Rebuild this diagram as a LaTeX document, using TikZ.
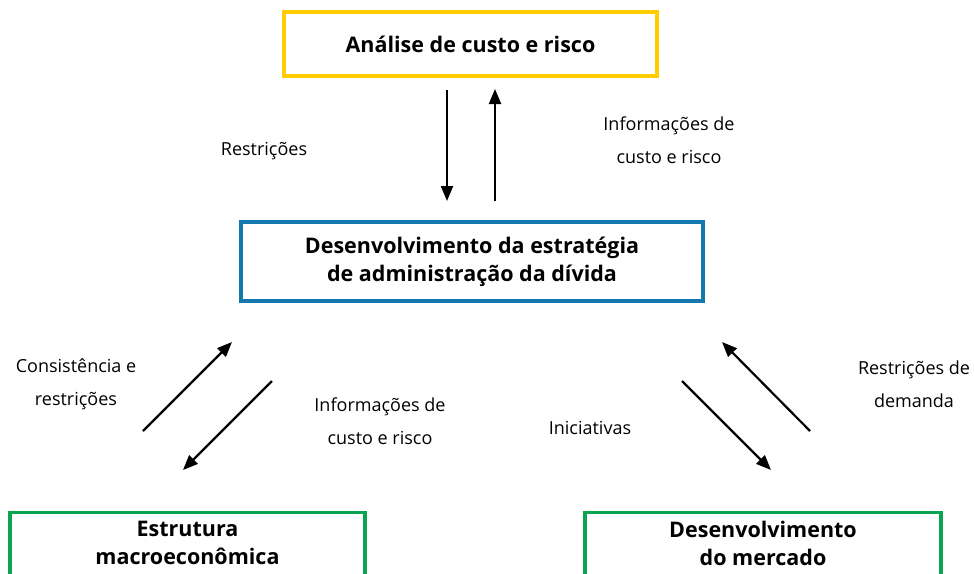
\documentclass[tikz,border=0pt]{standalone}
\usepackage{fontspec}
\setmainfont{Open Sans}
\usetikzlibrary{arrows.meta}
\definecolor{boxyellow}{RGB}{255,204,0}
\definecolor{boxblue}{RGB}{20,120,175}
\definecolor{boxgreen}{RGB}{10,165,80}

\begin{document}
\begin{tikzpicture}[x=1pt, y=-1pt, > = {Triangle[length=15pt,width=12pt]},
    box/.style = {draw, line width=3.4pt, align=center, font=\fontsize{21.5}{28}\selectfont\bfseries},
    flow/.style = {line width=2.2pt, ->},
    lbl/.style = {align=center, font=\fontsize{18}{33}\selectfont}]

    \useasboundingbox (0,0) rectangle (974,573);
    \clip (0,0) rectangle (974,573);

    % boxes
    \node[box, boxyellow, text=black, minimum width=373pt, minimum height=64pt] (risco) at (470.5,44) {Análise de custo e risco};
    \node[box, boxblue, text=black, minimum width=462pt, minimum height=79pt] (estrategia) at (472,261.5) {Desenvolvimento da estratégia\\de administração da dívida};
    \node[box, boxgreen, text=black, minimum width=355pt, anchor=north, inner ysep=8pt, minimum height=90pt, text depth=45pt] (macro) at (187.5,511) {Estrutura\\macroeconômica};
    \node[box, boxgreen, text=black, minimum width=356pt, anchor=north, inner ysep=8pt, minimum height=90pt, text depth=45pt] (mercado) at (763,511) {Desenvolvimento\\do mercado};

    % arrow ends
    \coordinate (a1) at (447,90);  \coordinate (a2) at (447,201);
    \coordinate (b1) at (495,201); \coordinate (b2) at (495,89);
    \coordinate (c1) at (143,431); \coordinate (c2) at (232,342);
    \coordinate (d1) at (272,381); \coordinate (d2) at (183,470);
    \coordinate (e1) at (810,431); \coordinate (e2) at (722,342);
    \coordinate (f1) at (682,381); \coordinate (f2) at (771,470);

    % arrows
    \draw[flow] (a1) -- (a2);
    \draw[flow] (b1) -- (b2);
    \draw[flow] (c1) -- (c2);
    \draw[flow] (d1) -- (d2);
    \draw[flow] (e1) -- (e2);
    \draw[flow] (f1) -- (f2);

    % labels
    \node[lbl] (restr) at (264,151) {Restrições};
    \node[lbl] (infotop) at (669,140) {Informações de\\custo e risco};
    \node[lbl] (consist) at (76,384) {Consistência e\\restrições};
    \node[lbl] (infoleft) at (380,421) {Informações de\\custo e risco};
    \node[lbl] (inic) at (590,428) {Iniciativas};
    \node[lbl] (demanda) at (914,384) {Restrições de\\demanda};

\end{tikzpicture}
\end{document}
